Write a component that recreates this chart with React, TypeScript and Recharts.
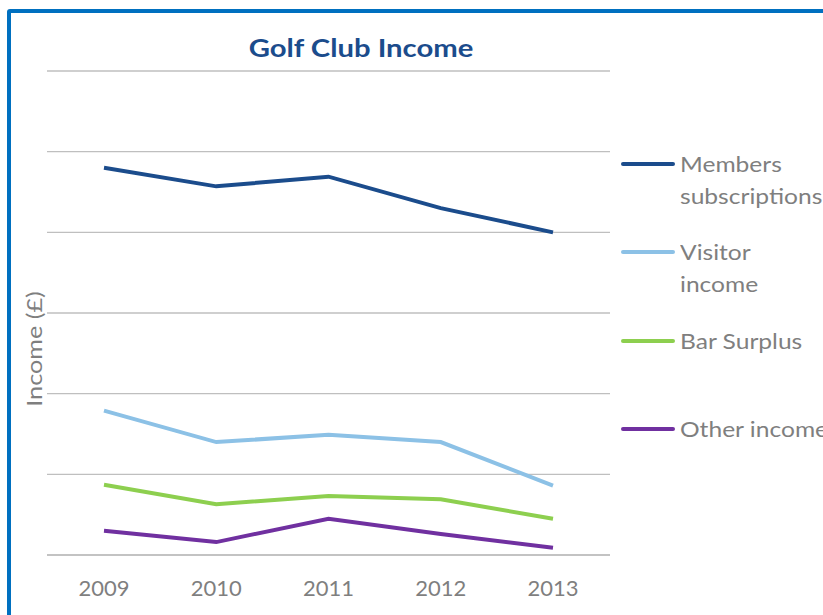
import React from "react";
import { LineChart, Line, XAxis, YAxis, CartesianGrid } from "recharts";

const years = ["2009", "2010", "2011", "2012", "2013"];
const membersSubscriptions = [4.8, 4.57, 4.69, 4.3, 4.0];
const visitorIncome = [1.79, 1.4, 1.49, 1.4, 0.86];
const barSurplus = [0.87, 0.63, 0.73, 0.69, 0.45];
const otherIncome = [0.3, 0.16, 0.45, 0.26, 0.09];
const yTicks = [0, 1, 2, 3, 4, 5, 6];

const seriesDefs = [
  { key: "members", name: ["Members", "subscriptions"], color: "#1B4C8C" },
  { key: "visitor", name: ["Visitor", "income"], color: "#8CC1E6" },
  { key: "bar", name: ["Bar Surplus"], color: "#8DCF4F" },
  { key: "other", name: ["Other income"], color: "#7030A0" },
];

const data = years.map((y, i) => ({
  year: y,
  members: membersSubscriptions[i],
  visitor: visitorIncome[i],
  bar: barSurplus[i],
  other: otherIncome[i],
}));

const legendTops = [164, 252, 341, 429];

const LegendBlock = () => (
  <div style={{ position: "absolute", left: 615, top: 0, width: 210, height: 615 }}>
    {seriesDefs.map((s, i) => (
      <div key={s.key} style={{ position: "absolute", left: 0, top: legendTops[i] - 16 }}>
        <div
          style={{
            position: "absolute",
            left: 6,
            top: 14,
            width: 54,
            height: 4,
            borderRadius: 2,
            background: s.color,
          }}
        />
        <div
          style={{
            position: "absolute",
            left: 65,
            top: 0,
            fontFamily: "Lato, sans-serif",
            fontSize: 21,
            lineHeight: "32px",
            color: "#7F7F7F",
            whiteSpace: "nowrap",
            transform: "scaleX(1.17)",
            transformOrigin: "left center",
          }}
        >
          {s.name.map((n) => (
            <div key={n}>{n}</div>
          ))}
        </div>
      </div>
    ))}
  </div>
);

export default function App() {
  return (
    <div
      style={{
        position: "absolute",
        left: 0,
        top: 0,
        width: 823,
        height: 615,
        overflow: "hidden",
        background: "#fff",
      }}
    >
      <div style={{ position: "absolute", left: 0, top: 0 }}>
        <LineChart
          width={823}
          height={615}
          data={data}
          margin={{ top: 71, right: 213, bottom: 0, left: 47 }}
        >
          <CartesianGrid horizontal vertical={false} stroke="#BFBFBF" strokeWidth={1.3} />
          <XAxis
            dataKey="year"
            padding={{ left: 57, right: 57 }}
            axisLine={{ stroke: "#BFBFBF", strokeWidth: 1.3 }}
            tickLine={false}
            tickMargin={19}
            height={60}
            tick={{ fill: "#7F7F7F", fontSize: 22, fontFamily: "Lato, sans-serif" }}
          />
          <YAxis hide domain={[0, 6]} ticks={yTicks} width={0} />
          {seriesDefs.map((s) => (
            <Line
              key={s.key}
              type="linear"
              dataKey={s.key}
              name={s.name.join(" ")}
              stroke={s.color}
              strokeWidth={4}
              dot={false}
              isAnimationActive={false}
            />
          ))}
        </LineChart>
      </div>
      <div
        style={{
          position: "absolute",
          left: 7,
          top: 9,
          width: 900,
          height: 700,
          border: "4px solid #0070C0",
          borderRadius: 3,
        }}
      />
      <div
        style={{
          position: "absolute",
          left: 0,
          width: 722,
          top: 32,
          textAlign: "center",
          fontFamily: "Lato, sans-serif",
          fontWeight: 700,
          fontSize: 25,
          color: "#1B4C8C",
          transform: "scaleX(1.17)",
          transformOrigin: "361px center",
        }}
      >
        Golf Club Income
      </div>
      <div
        style={{
          position: "absolute",
          left: 33,
          top: 349,
          transform: "translate(-50%, -50%) rotate(-90deg) scaleX(1.2)",
          fontFamily: "Lato, sans-serif",
          fontSize: 21,
          color: "#7F7F7F",
          whiteSpace: "nowrap",
        }}
      >
        Income (£)
      </div>
      <LegendBlock />
    </div>
  );
}
